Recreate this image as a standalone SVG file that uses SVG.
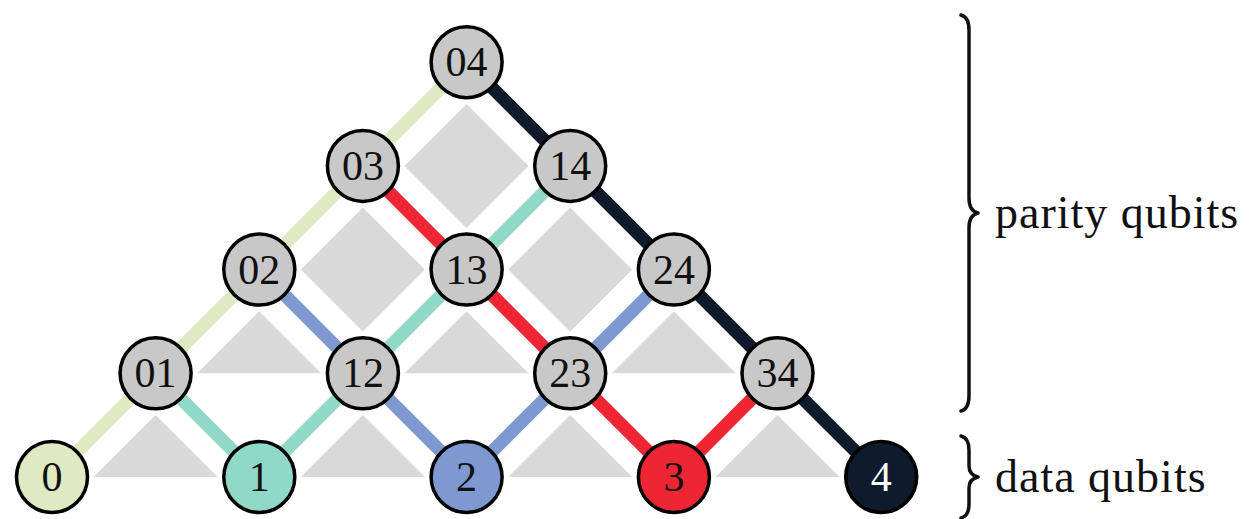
<svg xmlns="http://www.w3.org/2000/svg" width="1256" height="519" viewBox="0 0 1256 519">
<style>
.bg{fill:#ffffff}
.sh{fill:#d9d9d9}
.e{stroke-width:13;stroke-linecap:butt;fill:none}
.cy{stroke:#dfe9c2}
.ct{stroke:#90d8c7}
.cb{stroke:#7e99d0}
.cr{stroke:#ee2533}
.cn{stroke:#0f1a2c}
.n{stroke:#000;stroke-width:3.5}
.p{fill:#c8c8c8}
.t{font-family:"Liberation Serif","Times New Roman",serif;font-size:42px;text-anchor:middle;fill:#111}
.lab{font-family:"Liberation Serif","Times New Roman",serif;font-size:46px;fill:#111;letter-spacing:1px}
.br{fill:none;stroke:#111;stroke-width:3.5;stroke-linecap:round;stroke-linejoin:round}
</style>
<rect class="bg" x="0" y="0" width="1256" height="519"/>
<g id="plaquettes">
<polygon class="sh" points="155.6,415 93.6,477 217.6,477"/>
<polygon class="sh" points="362.9,415 300.9,477 424.9,477"/>
<polygon class="sh" points="570.2,415 508.2,477 632.2,477"/>
<polygon class="sh" points="777.5,415 715.5,477 839.5,477"/>
<polygon class="sh" points="259.3,311.3 197.3,373.3 321.3,373.3"/>
<polygon class="sh" points="466.6,311.3 404.6,373.3 528.6,373.3"/>
<polygon class="sh" points="673.9,311.3 611.9,373.3 735.9,373.3"/>
<polygon class="sh" points="362.9,207.6 424.9,269.6 362.9,331.6 300.9,269.6"/>
<polygon class="sh" points="570.2,207.6 632.2,269.6 570.2,331.6 508.2,269.6"/>
<polygon class="sh" points="466.6,103.9 528.6,165.9 466.6,227.9 404.6,165.9"/>
</g>
<g id="connectors">
<polyline class="e cy" points="52,477 155.6,373.3 259.3,269.6 362.9,165.9 466.6,62.2"/>
<polyline class="e ct" points="155.6,373.3 259.3,477 362.9,373.3 466.6,269.6 570.2,165.9"/>
<polyline class="e cb" points="259.3,269.6 362.9,373.3 466.6,477 570.2,373.3 673.9,269.6"/>
<polyline class="e cr" points="362.9,165.9 466.6,269.6 570.2,373.3 673.9,477 777.5,373.3"/>
<polyline class="e cn" points="466.6,62.2 570.2,165.9 673.9,269.6 777.5,373.3 881.2,477"/>
</g>
<g id="q0"><circle class="n" cx="52" cy="477" r="35.5" fill="#dfe9c2"/><text class="t" x="52" y="491">0</text></g>
<g id="q1"><circle class="n" cx="259.3" cy="477" r="35.5" fill="#90d8c7"/><text class="t" x="259.3" y="491">1</text></g>
<g id="q2"><circle class="n" cx="466.6" cy="477" r="35.5" fill="#7e99d0"/><text class="t" x="466.6" y="491">2</text></g>
<g id="q3"><circle class="n" cx="673.9" cy="477" r="35.5" fill="#ee2533"/><text class="t" x="673.9" y="491">3</text></g>
<g id="q4"><circle class="n" cx="881.2" cy="477" r="35.5" fill="#0f1a2c"/><text class="t" x="881.2" y="491" style="fill:#ffffff">4</text></g>
<g id="p01"><circle class="n p" cx="155.6" cy="373.3" r="35.5"/><text class="t" x="155.6" y="387.3">01</text></g>
<g id="p12"><circle class="n p" cx="362.9" cy="373.3" r="35.5"/><text class="t" x="362.9" y="387.3">12</text></g>
<g id="p23"><circle class="n p" cx="570.2" cy="373.3" r="35.5"/><text class="t" x="570.2" y="387.3">23</text></g>
<g id="p34"><circle class="n p" cx="777.5" cy="373.3" r="35.5"/><text class="t" x="777.5" y="387.3">34</text></g>
<g id="p02"><circle class="n p" cx="259.3" cy="269.6" r="35.5"/><text class="t" x="259.3" y="283.6">02</text></g>
<g id="p13"><circle class="n p" cx="466.6" cy="269.6" r="35.5"/><text class="t" x="466.6" y="283.6">13</text></g>
<g id="p24"><circle class="n p" cx="673.9" cy="269.6" r="35.5"/><text class="t" x="673.9" y="283.6">24</text></g>
<g id="p03"><circle class="n p" cx="362.9" cy="165.9" r="35.5"/><text class="t" x="362.9" y="179.9">03</text></g>
<g id="p14"><circle class="n p" cx="570.2" cy="165.9" r="35.5"/><text class="t" x="570.2" y="179.9">14</text></g>
<g id="p04"><circle class="n p" cx="466.6" cy="62.2" r="35.5"/><text class="t" x="466.6" y="76.2">04</text></g>
<g id="brace-parity">
<path class="br" d="M961,15 Q969,17 969,30 L969,198 Q969,211 978,213 Q969,215 969,228 L969,396 Q969,409 961,411"/>
<text class="lab" x="995" y="228">parity qubits</text>
</g>
<g id="brace-data">
<path class="br" d="M961,436 Q969,438 969,450 L969,466 Q969,475 978,477 Q969,479 969,488 L969,504 Q969,516 961,518"/>
<text class="lab" x="995" y="492">data qubits</text>
</g>
</svg>
